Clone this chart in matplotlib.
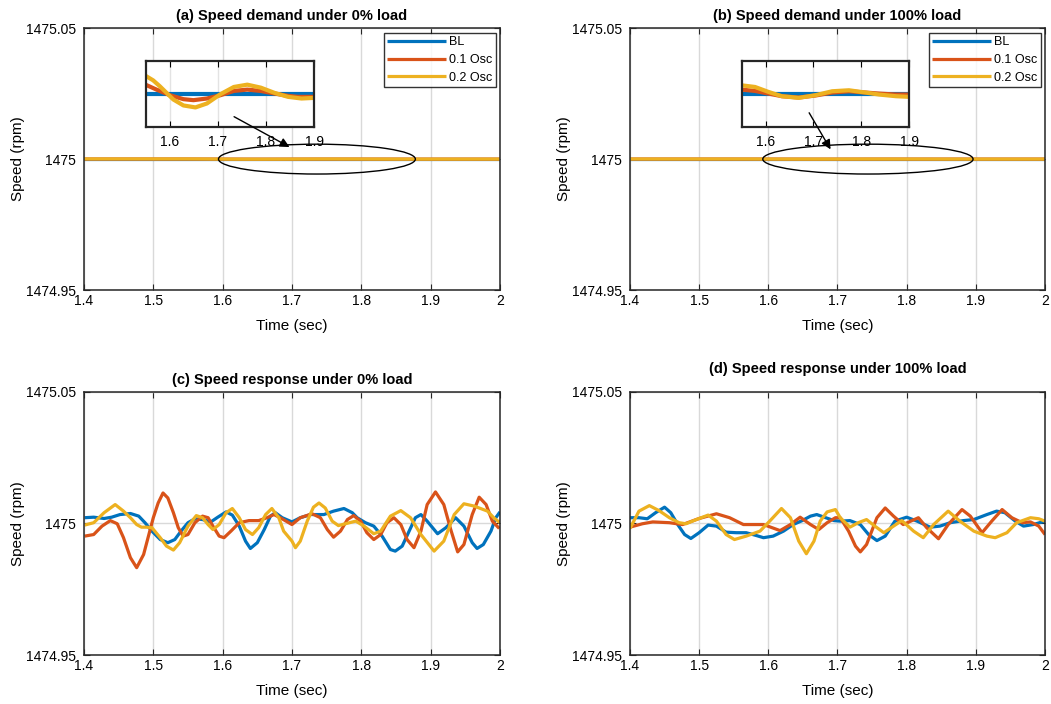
import numpy as np
import matplotlib
matplotlib.use("Agg")
from matplotlib import pyplot as plt
from matplotlib.patches import Ellipse

plt.rcParams['font.family'] = ['Liberation Sans', 'DejaVu Sans']

BASE = 1475.0
C_BL, C_O1, C_O2 = '#0072BD', '#D95319', '#EDB120'
labels = ['BL', '0.1 Osc', '0.2 Osc']

# ---- (a) speed demand, 0% load  (deviation from 1475 rpm, units of 1e-4 rpm)
ta_bl = [1.4, 2.0]
a_bl = [0, 0]
ta_o1 = [1.4, 1.549, 1.572, 1.6, 1.628, 1.649, 1.677, 1.705, 1.733, 1.761, 1.789, 1.818, 1.846, 1.867, 1.902, 2.0]
a_o1 = [0.3, 0.28, 0.13, -0.04, -0.16, -0.19, -0.14, -0.04, 0.09, 0.13, 0.09, 0.01, -0.06, -0.09, -0.09, -0.05]
ta_o2 = [1.4, 1.549, 1.565, 1.579, 1.593, 1.607, 1.628, 1.653, 1.677, 1.705, 1.733, 1.761, 1.789, 1.818,
         1.846, 1.874, 1.902, 2.0]
a_o2 = [0.6, 0.55, 0.41, 0.23, 0.03, -0.17, -0.35, -0.41, -0.29, -0.01, 0.21, 0.28, 0.19, 0.03,
        -0.09, -0.14, -0.12, -0.05]

# ---- (b) speed demand, 100% load  (units of 1e-4 rpm)
tb_bl = [1.4, 2.0]
b_bl = [0, 0]
tb = [1.4, 1.550, 1.578, 1.606, 1.634, 1.669, 1.704, 1.739, 1.774, 1.809, 1.837, 1.872, 1.9, 2.0]
b_o1 = [0.15, 0.13, 0.09, 0.01, -0.07, -0.11, -0.05, 0.04, 0.08, 0.04, 0.01, -0.02, -0.02, -0.02]
b_o2 = [0.3, 0.26, 0.21, 0.06, -0.07, -0.12, -0.04, 0.08, 0.11, 0.04, -0.02, -0.07, -0.09, -0.05]

# ---- (c) speed response, 0% load  (units of 1e-3 rpm)
tc_bl = [1.401, 1.414, 1.429, 1.440, 1.452, 1.467, 1.479, 1.488, 1.498, 1.510, 1.521, 1.531, 1.540, 1.550,
         1.560, 1.571, 1.583, 1.593, 1.605, 1.614, 1.624, 1.633, 1.640, 1.650, 1.660, 1.669, 1.676, 1.686,
         1.7, 1.712, 1.727, 1.746, 1.760, 1.775, 1.787, 1.794, 1.806, 1.818, 1.830, 1.842, 1.849, 1.859,
         1.869, 1.878, 1.886, 1.895, 1.910, 1.922, 1.936, 1.948, 1.960, 1.967, 1.976, 1.987, 1.994, 2.0]
c_bl = [2.2, 2.4, 1.9, 2.4, 3.4, 3.8, 2.8, 0.3, -2.9, -6.1, -7.3, -6.1, -2.9, 0.3,
        1.8, 1.5, 0.6, 2.4, 4.4, 3.2, -1.0, -6.7, -9.5, -7.3, -2.3, 2.8, 4.1, 2.2,
        0.6, 2.2, 3.4, 3.4, 4.7, 5.7, 4.1, 2.2, 0.3, -1.0, -4.8, -9.9, -10.5, -8.6,
        -2.9, 2.2, 3.4, 0.9, -3.9, -1.6, 2.2, -1.0, -7.3, -9.5, -8.0, -2.9, 2.2, 4.4]
tc_o1 = [1.401, 1.414, 1.426, 1.438, 1.448, 1.457, 1.467, 1.476, 1.486, 1.493, 1.5, 1.507, 1.514, 1.521,
         1.529, 1.536, 1.543, 1.55, 1.56, 1.571, 1.579, 1.586, 1.595, 1.602, 1.612, 1.624, 1.638, 1.652,
         1.664, 1.674, 1.683, 1.7, 1.712, 1.729, 1.741, 1.751, 1.760, 1.770, 1.780, 1.789, 1.799, 1.808,
         1.818, 1.828, 1.837, 1.847, 1.857, 1.866, 1.876, 1.886, 1.895, 1.907, 1.919, 1.929, 1.939, 1.948,
         1.960, 1.970, 1.980, 1.989, 1.999]
c_o1 = [-4.8, -4.2, -1.0, 1.1, -0.1, -5.4, -13.0, -16.8, -11.8, -4.8, 2.2, 7.8, 11.6, 9.7,
        4.1, -1.6, -4.8, -4.2, 0.3, 2.8, 2.2, -1.0, -4.8, -5.4, -2.9, 0.3, 1.1, 1.1,
        2.2, 3.4, 2.2, -0.4, 2.2, 3.7, 2.2, -2.3, -5.2, -2.9, 1.5, 3.0, 0.9, -3.5,
        -6.1, -4.2, 0.3, 2.2, -0.4, -6.1, -9.2, -2.9, 7.2, 12.0, 7.2, -2.3, -10.8, -8.0,
        3.4, 10.0, 7.2, 0.9, -1.9]
tc_o2 = [1.401, 1.414, 1.429, 1.445, 1.457, 1.467, 1.476, 1.483, 1.490, 1.498, 1.510, 1.519, 1.529, 1.538,
         1.550, 1.562, 1.571, 1.579, 1.586, 1.595, 1.605, 1.614, 1.624, 1.633, 1.643, 1.652, 1.662, 1.671,
         1.681, 1.688, 1.7, 1.705, 1.712, 1.722, 1.731, 1.739, 1.748, 1.758, 1.767, 1.777, 1.792, 1.804,
         1.818, 1.828, 1.842, 1.857, 1.871, 1.886, 1.905, 1.919, 1.934, 1.948, 1.963, 1.982, 1.991, 2.0]
c_o2 = [-0.6, 0.3, 4.1, 7.2, 4.7, 2.2, -0.4, -1.4, -1.4, -1.6, -5.4, -8.6, -10.1, -7.3,
        -1.0, 3.0, 2.2, -0.4, -2.3, -0.4, 4.1, 5.7, 2.2, -2.3, -4.2, -1.6, 3.4, 5.7,
        2.2, -2.9, -6.7, -9.2, -6.7, 0.9, 6.2, 7.8, 5.9, 0.9, -0.8, -0.1, 0.9, -1.0,
        -3.9, -2.9, 2.8, 4.9, 2.2, -4.2, -10.5, -6.7, 3.4, 7.5, 6.6, 4.7, 2.2, 0.3]

# ---- (d) speed response, 100% load  (units of 1e-3 rpm)
td_bl = [1.4, 1.413, 1.425, 1.437, 1.450, 1.459, 1.469, 1.479, 1.488, 1.500, 1.513, 1.525, 1.539, 1.554,
         1.568, 1.583, 1.593, 1.607, 1.622, 1.636, 1.649, 1.661, 1.670, 1.683, 1.695, 1.704, 1.718, 1.733,
         1.745, 1.757, 1.769, 1.783, 1.8, 1.815, 1.834, 1.848, 1.863, 1.882, 1.897, 1.916, 1.930, 1.942,
         1.957, 1.969, 1.983, 2.0]
d_bl = [2.2, 2.2, 1.8, 4.1, 6.2, 4.1, -0.4, -4.2, -5.7, -3.5, -0.6, -1.0, -3.3, -3.5,
        -3.5, -4.6, -5.4, -4.8, -2.9, -0.4, 1.1, 2.8, 3.4, 2.2, 1.1, 0.9, 1.1, -0.4,
        -4.2, -6.5, -4.8, 0.9, 2.4, 0.9, -1.4, -1.0, 0.3, 1.1, 1.5, 3.4, 4.7, 4.1,
        0.9, -1.0, -0.4, 0.9]
td_o1 = [1.4, 1.418, 1.433, 1.457, 1.476, 1.5, 1.525, 1.544, 1.564, 1.593, 1.617, 1.632, 1.646, 1.661,
         1.673, 1.685, 1.697, 1.704, 1.716, 1.726, 1.733, 1.742, 1.757, 1.769, 1.781, 1.795, 1.817, 1.829,
         1.846, 1.860, 1.880, 1.892, 1.909, 1.923, 1.938, 1.952, 1.967, 1.979, 1.991, 2.0]
d_o1 = [-1.4, -0.1, 0.6, 0.3, -0.4, 1.9, 3.7, 2.2, -0.4, -0.4, -2.7, -0.4, 2.4, -0.4,
        -2.3, 0.3, 2.2, 2.2, -2.9, -8.6, -10.8, -8.0, 2.2, 5.9, 2.8, -0.4, 2.2, -1.6,
        -5.8, -0.4, 5.3, 2.8, -3.5, 0.9, 5.3, 2.2, 0.3, 0.6, -1.0, -4.2]
td_o2 = [1.4, 1.413, 1.428, 1.442, 1.457, 1.471, 1.481, 1.496, 1.513, 1.525, 1.539, 1.551, 1.568, 1.588,
         1.602, 1.619, 1.632, 1.644, 1.655, 1.666, 1.675, 1.685, 1.697, 1.704, 1.718, 1.730, 1.742, 1.754,
         1.767, 1.781, 1.793, 1.810, 1.824, 1.839, 1.860, 1.877, 1.897, 1.916, 1.928, 1.945, 1.959, 1.979,
         1.991, 2.0]
d_o2 = [-1.9, 4.7, 6.8, 4.9, 2.2, 0.3, -0.1, 1.5, 3.2, 0.9, -4.2, -6.1, -4.8, -2.9,
        0.9, 5.7, 2.2, -6.7, -11.5, -6.7, 0.9, 4.4, 5.3, 2.2, -1.4, 0.3, 1.5, -1.0,
        -3.5, -1.0, 1.1, -2.9, -5.4, -0.4, 4.7, 0.9, -2.9, -4.8, -5.4, -3.5, 0.3, 2.2,
        1.8, 0.9]

xt = [1.4, 1.5, 1.6, 1.7, 1.8, 1.9, 2.0]
xtl = ['1.4', '1.5', '1.6', '1.7', '1.8', '1.9', '2']
yt = [1474.95, 1475.0, 1475.05]
ytl = ['1474.95', '1475', '1475.05']


def spd(v, unit=1e-3):
    return BASE + np.asarray(v) * unit


def style(ax, title, pad=6):
    ax.set_xlim(1.4, 2.0)
    ax.set_ylim(1474.95, 1475.05)
    ax.set_xticks(xt)
    ax.set_xticklabels(xtl)
    ax.set_yticks(yt)
    ax.set_yticklabels(ytl)
    ax.grid(True, color='#d9d9d9', lw=1)
    ax.set_axisbelow(True)
    ax.tick_params(direction='in', top=True, right=True, labelsize=10, length=4, color='#262626')
    ax.tick_params(axis='y', pad=5.5)
    ax.tick_params(axis='x', pad=3)
    for s in ax.spines.values():
        s.set_linewidth(1.1)
        s.set_color('#262626')
    ax.set_xlabel('Time (sec)', fontsize=11, labelpad=8)
    ax.set_ylabel('Speed (rpm)', fontsize=11, labelpad=1)
    ax.set_title(title, fontsize=10.5, fontweight='bold', pad=pad)


def line(ax, t, v, c, unit=1e-3, lw=2.3, **kw):
    ax.plot(t, spd(v, unit), color=c, lw=lw, solid_joinstyle='round', solid_capstyle='butt', **kw)


def inset(ax, x0, series):
    ins = ax.inset_axes([x0, 0.623, 0.404, 0.252])
    ins.set_facecolor('white')
    for t, v, c in series:
        line(ins, t, v, c, unit=1e-4, lw=3)
    ins.set_xlim(1.55, 1.9)
    ins.set_ylim(1475 - 1e-4, 1475 + 1e-4)
    ins.set_xticks([1.6, 1.7, 1.8, 1.9])
    ins.set_xticklabels(['1.6', '1.7', '1.8', '1.9'])
    ins.set_yticks([])
    ins.grid(True, axis='x', color='#e3e3e3', lw=1)
    ins.tick_params(direction='in', top=True, labelsize=10, length=4, pad=6)
    for s in ins.spines.values():
        s.set_linewidth(1.6)
        s.set_color('#262626')
    return ins


fig = plt.figure(figsize=(10.51, 7.04), dpi=100)
axa = fig.add_axes([0.0799, 0.588, 0.3958, 0.372])
axb = fig.add_axes([0.5994, 0.588, 0.3949, 0.372])
axc = fig.add_axes([0.0799, 0.0696, 0.3958, 0.3736])
axd = fig.add_axes([0.5994, 0.0696, 0.3949, 0.3736])

# (a)
sa = [(ta_bl, a_bl, C_BL), (ta_o1, a_o1, C_O1), (ta_o2, a_o2, C_O2)]
for (t, v, c), lab in zip(sa, labels):
    line(axa, t, v, c, unit=1e-4, label=lab)
style(axa, '(a) Speed demand under 0% load')
inset(axa, 0.149, sa)
axa.add_patch(Ellipse((1.736, 1475.0), 0.284, 0.0114, fill=False, ec='black', lw=1, zorder=6))
axa.annotate('', xy=(1.70, 1475.0041), xytext=(1.613, 1475.0167),
             arrowprops=dict(arrowstyle='-|>', color='black', lw=1, mutation_scale=14), zorder=10)

# (b)
sb = [(tb_bl, b_bl, C_BL), (tb, b_o1, C_O1), (tb, b_o2, C_O2)]
for (t, v, c), lab in zip(sb, labels):
    line(axb, t, v, c, unit=1e-4, label=lab)
style(axb, '(b) Speed demand under 100% load')
inset(axb, 0.269, sb)
axb.add_patch(Ellipse((1.744, 1475.0), 0.304, 0.0114, fill=False, ec='black', lw=1, zorder=6))
axb.annotate('', xy=(1.692, 1475.0028), xytext=(1.657, 1475.0186),
             arrowprops=dict(arrowstyle='-|>', color='black', lw=1, mutation_scale=14), zorder=10)

for ax in (axa, axb):
    leg = ax.legend(loc='upper right', fontsize=9, handlelength=4.7, frameon=True, fancybox=False,
                    borderaxespad=0.35, handletextpad=0.2, labelspacing=0.45, borderpad=0.3)
    leg.get_frame().set_edgecolor('black')
    leg.get_frame().set_linewidth(1)
    leg.set_zorder(20)

# (c)
line(axc, tc_bl, c_bl, C_BL)
line(axc, tc_o1, c_o1, C_O1)
line(axc, tc_o2, c_o2, C_O2)
style(axc, '(c) Speed response under 0% load')

# (d)
line(axd, td_bl, d_bl, C_BL)
line(axd, td_o1, d_o1, C_O1)
line(axd, td_o2, d_o2, C_O2)
style(axd, '(d) Speed response under 100% load', pad=14)

fig.savefig('out.png', dpi=100)
